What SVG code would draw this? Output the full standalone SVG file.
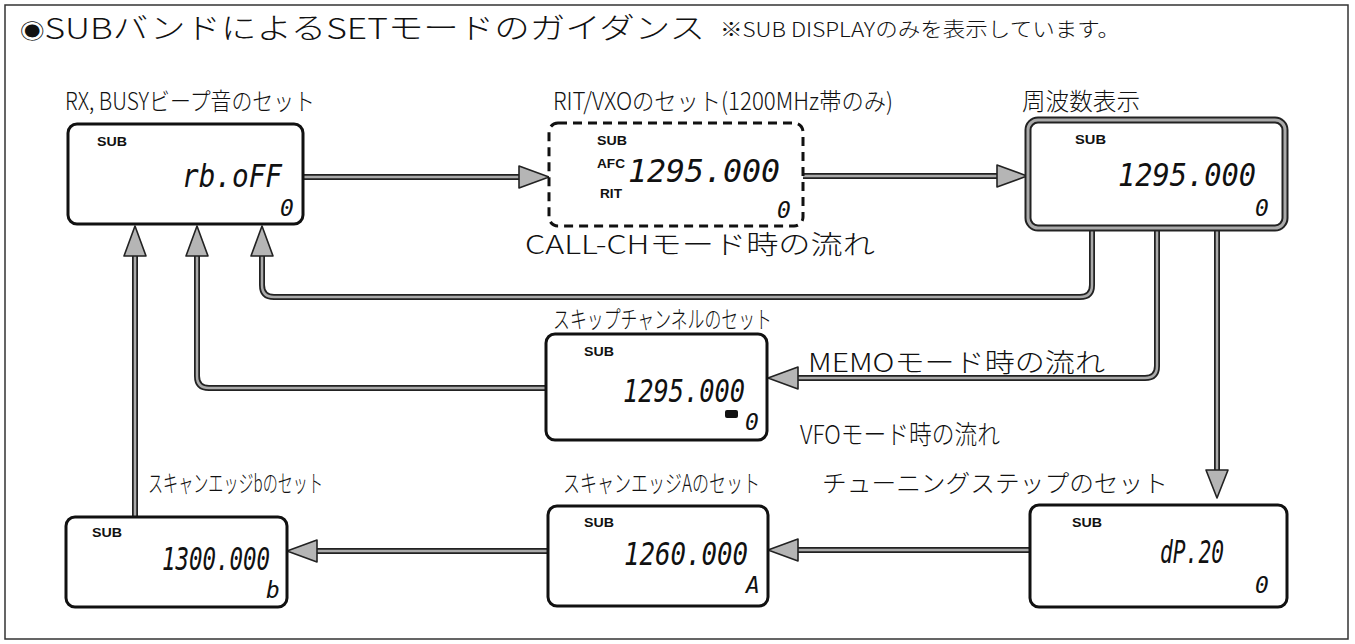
<svg xmlns="http://www.w3.org/2000/svg" width="1355" height="644" viewBox="0 0 1355 644">
<defs>
<style>
.jp{font-family:"Noto Sans CJK JP","Noto Sans",sans-serif;fill:#111;}
.lbl{font-size:24px;font-weight:300;}
.flow{font-size:26px;font-weight:300;}
.sub{font-family:"Liberation Sans",Arial,sans-serif;font-weight:bold;font-size:12px;fill:#111;}
.lcd{font-family:"DejaVu Sans Mono",monospace;font-style:italic;fill:#111;}
.big{font-size:32px;}
.sm{font-size:23px;}
.box{fill:#fff;stroke:#111;stroke-width:3;}
.dash{fill:#fff;stroke:#111;stroke-width:3;stroke-dasharray:9 6;}
.shaftO{fill:none;stroke:#222;stroke-width:6;}
.shaftI{fill:none;stroke:#aaa;stroke-width:2.5;}
.head{fill:#b5b5b5;stroke:#222;stroke-width:1.6;stroke-linejoin:round;}
</style>
</defs>
<rect x="0" y="0" width="1355" height="644" fill="#fff"/>
<rect x="5" y="5" width="1343" height="634" fill="none" stroke="#333" stroke-width="1.5"/>
<text class="jp" x="20" y="39" font-size="29" font-weight="300" textLength="685" lengthAdjust="spacingAndGlyphs"><tspan font-size="20">◉</tspan>SUBバンドによるSETモードのガイダンス</text>
<text class="jp" x="720" y="37" font-size="20" font-weight="300" textLength="400" lengthAdjust="spacingAndGlyphs">※SUB DISPLAYのみを表示しています。</text>

<g id="connectors">
<path class="shaftO" d="M303,177 H522"/><path class="shaftI" d="M303,177 H522"/>
<polygon class="head" points="549,177 519,166 519,188"/>
<path class="shaftO" d="M803,176 H1000"/><path class="shaftI" d="M803,176 H1000"/>
<polygon class="head" points="1027,176 997,165 997,187"/>
<path class="shaftO" d="M1092,229 V285 Q1092,297 1080,297 H274 Q262,297 262,285 V256"/><path class="shaftI" d="M1092,229 V285 Q1092,297 1080,297 H274 Q262,297 262,285 V256"/>
<polygon class="head" points="262,226 251,256 273,256"/>
<path class="shaftO" d="M1157,229 V366 Q1157,378 1145,378 H798"/><path class="shaftI" d="M1157,229 V366 Q1157,378 1145,378 H798"/>
<polygon class="head" points="768,378 798,367 798,389"/>
<path class="shaftO" d="M546,388 H209 Q197,388 197,376 V256"/><path class="shaftI" d="M546,388 H209 Q197,388 197,376 V256"/>
<polygon class="head" points="197,226 186,256 208,256"/>
<path class="shaftO" d="M1217,229 V472"/><path class="shaftI" d="M1217,229 V472"/>
<polygon class="head" points="1217,498 1206,470 1228,470"/>
<path class="shaftO" d="M1030,550 H798"/><path class="shaftI" d="M1030,550 H798"/>
<polygon class="head" points="768,550 798,539 798,561"/>
<path class="shaftO" d="M548,551 H317"/><path class="shaftI" d="M548,551 H317"/>
<polygon class="head" points="287,551 317,540 317,562"/>
<path class="shaftO" d="M135,517 V256"/><path class="shaftI" d="M135,517 V256"/>
<polygon class="head" points="135,226 124,256 146,256"/>
</g>

<g id="node-rxbusy">
<text class="jp lbl" x="65" y="110" textLength="250" lengthAdjust="spacingAndGlyphs">RX, BUSYビープ音のセット</text>
<rect class="box" x="68" y="124" width="235" height="100" rx="9"/>
<text class="sub" x="97" y="146" textLength="30" lengthAdjust="spacingAndGlyphs">SUB</text>
<text class="lcd big" x="182" y="187" textLength="100" lengthAdjust="spacingAndGlyphs">rb.oFF</text>
<text class="lcd sm" x="280" y="216">0</text>
</g>

<g id="node-ritvxo">
<text class="jp lbl" x="553" y="110" textLength="340" lengthAdjust="spacingAndGlyphs">RIT/VXOのセット(1200MHz帯のみ)</text>
<rect class="dash" x="549" y="123" width="254" height="103" rx="9"/>
<text class="sub" x="597" y="145" textLength="30" lengthAdjust="spacingAndGlyphs">SUB</text>
<text class="sub" x="597" y="168" textLength="28" lengthAdjust="spacingAndGlyphs">AFC</text>
<text class="sub" x="600" y="198" textLength="22" lengthAdjust="spacingAndGlyphs">RIT</text>
<text class="lcd big" x="628" y="182" textLength="152" lengthAdjust="spacingAndGlyphs">1295.000</text>
<text class="lcd sm" x="777" y="218">0</text>
</g>

<g id="node-freq">
<text class="jp lbl" x="1022" y="110" textLength="118" lengthAdjust="spacingAndGlyphs">周波数表示</text>
<rect x="1028" y="120" width="257" height="108" rx="10" fill="#fff" stroke="#222" stroke-width="7"/>
<rect x="1028" y="120" width="257" height="108" rx="10" fill="none" stroke="#aaa" stroke-width="3"/>
<text class="sub" x="1075" y="144" textLength="31" lengthAdjust="spacingAndGlyphs">SUB</text>
<text class="lcd big" x="1118" y="186" textLength="138" lengthAdjust="spacingAndGlyphs">1295.000</text>
<text class="lcd sm" x="1255" y="216">0</text>
</g>

<g id="node-skip">
<text class="jp lbl" x="553" y="328" textLength="219" lengthAdjust="spacingAndGlyphs">スキップチャンネルのセット</text>
<rect class="box" x="546" y="334" width="221" height="106" rx="9"/>
<text class="sub" x="584" y="356" textLength="30" lengthAdjust="spacingAndGlyphs">SUB</text>
<text class="lcd big" x="623" y="402" textLength="122" lengthAdjust="spacingAndGlyphs">1295.000</text>
<rect x="725" y="410" width="13" height="8" rx="2" fill="#111"/>
<text class="lcd sm" x="745" y="430">0</text>
</g>

<g id="node-edgeb">
<text class="jp lbl" x="148" y="492" textLength="175" lengthAdjust="spacingAndGlyphs">スキャンエッジbのセット</text>
<rect class="box" x="66" y="517" width="221" height="90" rx="9"/>
<text class="sub" x="92" y="537" textLength="30" lengthAdjust="spacingAndGlyphs">SUB</text>
<text class="lcd big" x="162" y="570" textLength="108" lengthAdjust="spacingAndGlyphs">1300.000</text>
<text class="lcd sm" x="266" y="598">b</text>
</g>

<g id="node-edgea">
<text class="jp lbl" x="563" y="492" textLength="197" lengthAdjust="spacingAndGlyphs">スキャンエッジAのセット</text>
<rect class="box" x="548" y="506" width="220" height="100" rx="9"/>
<text class="sub" x="584" y="527" textLength="30" lengthAdjust="spacingAndGlyphs">SUB</text>
<text class="lcd big" x="624" y="565" textLength="124" lengthAdjust="spacingAndGlyphs">1260.000</text>
<text class="lcd sm" x="746" y="593">A</text>
</g>

<g id="node-step">
<text class="jp lbl" x="822" y="492" textLength="346" lengthAdjust="spacingAndGlyphs">チューニングステップのセット</text>
<rect class="box" x="1030" y="505" width="257" height="102" rx="9"/>
<text class="sub" x="1072" y="527" textLength="30" lengthAdjust="spacingAndGlyphs">SUB</text>
<text class="lcd big" x="1160" y="563" textLength="64" lengthAdjust="spacingAndGlyphs">dP.20</text>
<text class="lcd sm" x="1255" y="593">0</text>
</g>

<g id="flow-labels">
<text class="jp flow" x="525" y="254" textLength="350" lengthAdjust="spacingAndGlyphs">CALL-CHモード時の流れ</text>
<text class="jp flow" x="808" y="372" textLength="297" lengthAdjust="spacingAndGlyphs">MEMOモード時の流れ</text>
<text class="jp flow" x="800" y="444" textLength="200" lengthAdjust="spacingAndGlyphs">VFOモード時の流れ</text>
</g>
</svg>
